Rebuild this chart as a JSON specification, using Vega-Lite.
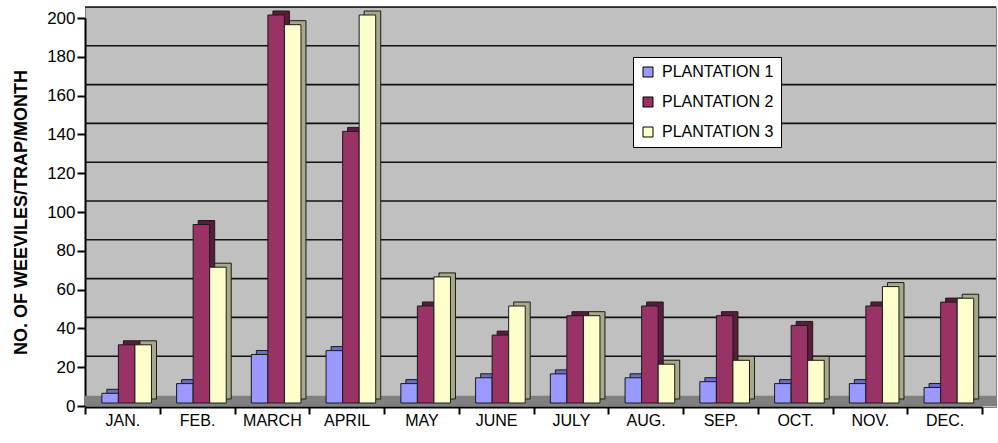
{
  "$schema": "https://vega.github.io/schema/vega-lite/v6.json",
  "width": 911,
  "height": 400,
  "autosize": "none",
  "padding": {"left": 85, "top": 7, "right": 2, "bottom": 36},
  "background": "white",
  "config": {
    "font": "Liberation Sans",
    "view": {"fill": "#C0C0C0", "stroke": "#808080", "strokeWidth": 1}
  },
  "datasets": {
    "counts": [
      {"month": "JAN.", "plantation": "PLANTATION 1", "weevils": 5},
      {"month": "JAN.", "plantation": "PLANTATION 2", "weevils": 30},
      {"month": "JAN.", "plantation": "PLANTATION 3", "weevils": 30},
      {"month": "FEB.", "plantation": "PLANTATION 1", "weevils": 10},
      {"month": "FEB.", "plantation": "PLANTATION 2", "weevils": 92},
      {"month": "FEB.", "plantation": "PLANTATION 3", "weevils": 70},
      {"month": "MARCH", "plantation": "PLANTATION 1", "weevils": 25},
      {"month": "MARCH", "plantation": "PLANTATION 2", "weevils": 200},
      {"month": "MARCH", "plantation": "PLANTATION 3", "weevils": 195},
      {"month": "APRIL", "plantation": "PLANTATION 1", "weevils": 27},
      {"month": "APRIL", "plantation": "PLANTATION 2", "weevils": 140},
      {"month": "APRIL", "plantation": "PLANTATION 3", "weevils": 200},
      {"month": "MAY", "plantation": "PLANTATION 1", "weevils": 10},
      {"month": "MAY", "plantation": "PLANTATION 2", "weevils": 50},
      {"month": "MAY", "plantation": "PLANTATION 3", "weevils": 65},
      {"month": "JUNE", "plantation": "PLANTATION 1", "weevils": 13},
      {"month": "JUNE", "plantation": "PLANTATION 2", "weevils": 35},
      {"month": "JUNE", "plantation": "PLANTATION 3", "weevils": 50},
      {"month": "JULY", "plantation": "PLANTATION 1", "weevils": 15},
      {"month": "JULY", "plantation": "PLANTATION 2", "weevils": 45},
      {"month": "JULY", "plantation": "PLANTATION 3", "weevils": 45},
      {"month": "AUG.", "plantation": "PLANTATION 1", "weevils": 13},
      {"month": "AUG.", "plantation": "PLANTATION 2", "weevils": 50},
      {"month": "AUG.", "plantation": "PLANTATION 3", "weevils": 20},
      {"month": "SEP.", "plantation": "PLANTATION 1", "weevils": 11},
      {"month": "SEP.", "plantation": "PLANTATION 2", "weevils": 45},
      {"month": "SEP.", "plantation": "PLANTATION 3", "weevils": 22},
      {"month": "OCT.", "plantation": "PLANTATION 1", "weevils": 10},
      {"month": "OCT.", "plantation": "PLANTATION 2", "weevils": 40},
      {"month": "OCT.", "plantation": "PLANTATION 3", "weevils": 22},
      {"month": "NOV.", "plantation": "PLANTATION 1", "weevils": 10},
      {"month": "NOV.", "plantation": "PLANTATION 2", "weevils": 50},
      {"month": "NOV.", "plantation": "PLANTATION 3", "weevils": 60},
      {"month": "DEC.", "plantation": "PLANTATION 1", "weevils": 8},
      {"month": "DEC.", "plantation": "PLANTATION 2", "weevils": 52},
      {"month": "DEC.", "plantation": "PLANTATION 3", "weevils": 54}
    ],
    "gridValues": [
      {"level": 20}, {"level": 40}, {"level": 60}, {"level": 80}, {"level": 100},
      {"level": 120}, {"level": 140}, {"level": 160}, {"level": 180}, {"level": 200}
    ]
  },
  "layer": [
    {
      "data": {"values": [{}]},
      "mark": {"type": "rect", "fill": "#808080"},
      "encoding": {
        "y": {
          "datum": 0,
          "type": "quantitative",
          "scale": {"domain": [0, 200], "range": [399, 11], "nice": false, "zero": true},
          "axis": {
            "title": "NO. OF WEEVILES/TRAP/MONTH",
            "titleFontSize": 18,
            "titleFontWeight": "bold",
            "titleColor": "#000000",
            "titlePadding": 16,
            "values": [0, 20, 40, 60, 80, 100, 120, 140, 160, 180, 200],
            "tickCount": 12,
            "labelOverlap": false,
            "grid": false,
            "labelFontSize": 17,
            "labelColor": "#000000",
            "labelPadding": 2,
            "tickSize": 8,
            "tickColor": "#000000",
            "tickWidth": 2,
            "domainColor": "#000000",
            "domainWidth": 2
          }
        },
        "y2": {"datum": 5.3}
      }
    },
    {
      "data": {"name": "gridValues"},
      "mark": {"type": "rule", "color": "#111111", "strokeWidth": 1.6, "yOffset": -11},
      "encoding": {
        "y": {"field": "level", "type": "quantitative"}
      }
    },
    {
      "data": {"name": "counts"},
      "mark": {"type": "bar", "stroke": "#1a1a1a", "strokeWidth": 1, "yOffset": -7, "y2Offset": -7},
      "encoding": {
        "x": {"field": "month", "type": "nominal", "sort": null},
        "xOffset": {
          "field": "plantation",
          "type": "nominal",
          "scale": {"paddingInner": 0, "paddingOuter": 0.76, "align": 0.87}
        },
        "y": {"field": "weevils", "type": "quantitative"},
        "color": {
          "field": "plantation",
          "type": "nominal",
          "scale": {"range": ["#6c6cc4", "#5a1c3c", "#a9a98a"]},
          "legend": null
        }
      }
    },
    {
      "data": {"name": "counts"},
      "mark": {"type": "bar", "stroke": "#1a1a1a", "strokeWidth": 1, "yOffset": -3, "y2Offset": -3},
      "encoding": {
        "x": {
          "field": "month",
          "type": "nominal",
          "sort": null,
          "scale": {"range": [0, 897], "paddingInner": 0, "paddingOuter": 0},
          "axis": {
            "title": null,
            "labelAngle": 0,
            "labelAlign": "center",
            "labelFontSize": 16,
            "labelColor": "#000000",
            "labelPadding": 6,
            "tickBand": "extent",
            "tickSize": 7,
            "tickColor": "#000000",
            "tickWidth": 2,
            "domainColor": "#000000",
            "domainWidth": 2
          }
        },
        "xOffset": {
          "field": "plantation",
          "type": "nominal",
          "scale": {"paddingInner": 0, "paddingOuter": 0.76, "align": 0.67}
        },
        "y": {"field": "weevils", "type": "quantitative"},
        "color": {
          "field": "plantation",
          "type": "nominal",
          "scale": {"range": ["#9999FF", "#993366", "#FFFFCC"]},
          "legend": {
            "title": null,
            "orient": "none",
            "legendX": 548,
            "legendY": 50,
            "fillColor": "#FFFFFF",
            "strokeColor": "#000000",
            "padding": 7,
            "rowPadding": 14,
            "symbolType": "square",
            "symbolSize": 100,
            "symbolStrokeColor": "#000000",
            "symbolStrokeWidth": 1,
            "labelFontSize": 16,
            "labelColor": "#000000",
            "labelOffset": 6
          }
        }
      }
    }
  ],
  "resolve": {"scale": {"color": "independent", "xOffset": "independent"}}
}
